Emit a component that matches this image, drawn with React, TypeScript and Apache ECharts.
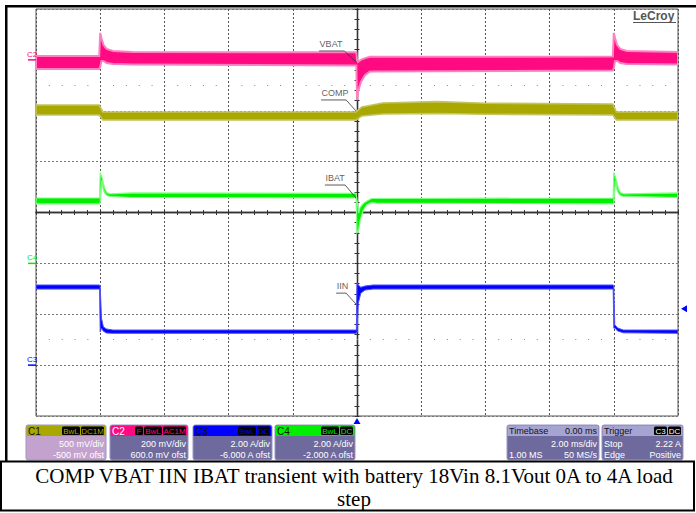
import React, { useEffect, useRef } from 'react';
import * as echarts from 'echarts';

// ---- time base (ms), 2 ms/div, trigger at 0 ----
const timeMin = -10;
const timeMax = 10;
const timeDiv = 2;

// ---- channel vertical scales: [min, max] of the 8-division screen ----
const c1Range = [-1500, 2500]; // COMP, mV (500 mV/div, -500 mV ofst)
const c2Range = [-1400, 200]; // VBAT AC, mV (200 mV/div, 600 mV ofst)
const c3Range = [-2, 14]; // IIN, A (2 A/div, -6 A ofst)
const c4Range = [-6, 10]; // IBAT, A (2 A/div, -2 A ofst)
const divRange = [-4, 4];
const dotRows = [2.5, -2.5];
const triggerLevel = 2.22;

// ---- trace envelopes: [time ms, low, high] ----
const vbatEnv = [
  [-10, -36, 15], [-8.03, -36, 15], [-8.0, -28, 106], [-7.96, -4, 86], [-7.9, -4, 59],
  [-7.8, -12, 43], [-7.6, -16, 35], [-7.0, -18, 31], [-0.02, -22, 30], [0.0, -158, 0],
  [0.03, -126, -8], [0.12, -87, 0], [0.25, -59, 7], [0.4, -46, 12], [7.97, -42, 13],
  [8.0, -32, 106], [8.04, -4, 86], [8.1, -4, 59], [8.2, -12, 43], [8.4, -16, 35], [10, -18, 31],
];
const compEnv = [
  [-10, 1458, 1557], [-8.03, 1458, 1557], [-7.92, 1409, 1488], [-0.03, 1409, 1488],
  [0.15, 1449, 1537], [0.8, 1468, 1576], [2.5, 1473, 1590], [4.0, 1466, 1574],
  [7.97, 1458, 1566], [8.08, 1409, 1488], [10, 1409, 1488],
];
const ibatEnv = [
  [-10, 2.34, 2.57], [-8.02, 2.34, 2.57], [-8.0, 2.4, 3.57], [-7.95, 3.25, 3.41], [-7.9, 2.89, 3.15],
  [-7.85, 2.75, 2.91], [-7.79, 2.67, 2.78], [-7.69, 2.63, 2.73], [-7.0, 2.59, 2.77], [-0.03, 2.57, 2.75],
  [0.0, 1.2, 2.5], [0.05, 1.31, 1.98], [0.1, 1.71, 2.2], [0.2, 2.1, 2.36], [0.3, 2.3, 2.44],
  [0.45, 2.39, 2.55], [0.6, 2.37, 2.55], [7.98, 2.34, 2.57], [8.0, 2.4, 3.57], [8.05, 3.25, 3.41],
  [8.1, 2.89, 3.15], [8.15, 2.75, 2.91], [8.21, 2.67, 2.78], [8.31, 2.63, 2.73], [10, 2.59, 2.77],
];
const iinEnv = [
  [-10, 2.99, 3.15], [-8.02, 2.99, 3.15], [-8.0, 1.3, 3.1], [-7.96, 1.45, 1.85], [-7.9, 1.33, 1.5],
  [-7.8, 1.26, 1.42], [-7.6, 1.25, 1.38], [-0.02, 1.25, 1.38], [0.0, 1.3, 3.23], [0.04, 2.44, 3.15],
  [0.12, 2.83, 3.06], [0.25, 2.95, 3.11], [0.5, 2.99, 3.15], [7.98, 2.99, 3.15], [8.0, 1.45, 3.1],
  [8.03, 1.46, 1.59], [8.12, 1.34, 1.46], [8.3, 1.27, 1.38], [10, 1.25, 1.38],
];

// ---- annotation leaders: text start, underline end, pointer tip ----
const noteVBAT = [[-1.18, 35], [-0.4, 35], [-0.03, -8]];
const noteCOMP = [[-1.12, 1606], [-0.34, 1606], [-0.03, 1498]];
const noteIBAT = [[-1.0, 3.08], [-0.37, 3.08], [-0.03, 2.57]];
const noteIIN = [[-0.65, 2.83], [-0.34, 2.83], [-0.03, 2.4]];

// ---- info panel texts ----
const chanTitles = ['C1', 'C2', 'C3', 'C4'];
const chanBadges = [['BwL', 'DC1M'], ['F', 'BwL', 'AC1M'], ['BwL', 'DC'], ['BwL', 'DC']];
const chanScale = ['500 mV/div', '200 mV/div', '2.00 A/div', '2.00 A/div'];
const chanOffset = ['-500 mV ofst', '600.0 mV ofst', '-6.000 A ofst', '-2.000 A ofst'];
const timebaseRows = [['Timebase', '0.00 ms'], ['', '2.00 ms/div'], ['1.00 MS', '50 MS/s']];
const triggerRows = [['Trigger', ''], ['Stop', '2.22 A'], ['Edge', 'Positive']];
const triggerBadges = ['C3', 'DC'];
const captionLines = [
  'COMP VBAT IIN IBAT transient with battery 18Vin 8.1Vout 0A to 4A load',
  'step',
];

const COL_C1 = '#A8A800';
const COL_C2 = '#FF0A80';
const COL_C3 = '#0000FF';
const COL_C4 = '#00EE00';
const SANS = '"Liberation Sans", Arial, sans-serif';
const SERIF = '"Liberation Serif", "Times New Roman", serif';

function band(env: number[][], yAxisIndex: number, fill: string, stroke: string, lw: number) {
  return {
    type: 'custom',
    xAxisIndex: 0,
    yAxisIndex,
    clip: true,
    silent: true,
    data: env,
    encode: { x: 0, y: [1, 2] },
    renderItem: (params: any, api: any) => {
      if (params.dataIndex !== 0) return;
      const up = env.map((p) => api.coord([p[0], p[2]]));
      const dn = env.slice().reverse().map((p) => api.coord([p[0], p[1]]));
      return {
        type: 'polygon',
        shape: { points: up.concat(dn) },
        style: { fill, stroke, lineWidth: lw },
      };
    },
  };
}

function note(points: number[][], yAxisIndex: number, text: string, markPoint?: any) {
  return [
    {
      type: 'line',
      xAxisIndex: 0,
      yAxisIndex,
      data: points,
      symbol: 'none',
      silent: true,
      z: 5,
      lineStyle: { color: '#333', width: 0.8 },
    },
    {
      type: 'scatter',
      xAxisIndex: 0,
      yAxisIndex,
      data: [points[0]],
      symbolSize: 1,
      silent: true,
      z: 5,
      itemStyle: { color: 'rgba(0,0,0,0)' },
      label: {
        show: true,
        formatter: text,
        position: [1, -11],
        color: '#333',
        fontSize: 9,
        fontFamily: SANS,
      },
      markPoint,
    },
  ];
}

function chanMarker(label: string, color: string) {
  return {
    coord: [timeMin, 0],
    symbol: 'rect',
    symbolSize: [8, 1.5],
    symbolOffset: [-4, 0],
    itemStyle: { color },
    label: { show: true, position: 'top', distance: 1, formatter: label, color, fontSize: 8, fontFamily: SANS },
  };
}

function buildGraphics() {
  const g: any[] = [];
  const heads = [COL_C1, COL_C2, COL_C3, COL_C4];
  const bodies = ['#C4A2CE', '#6E6A9E', '#6E6A9E', '#6E6A9E'];
  const xs = [26, 110, 193, 275];
  const ws = [80, 78, 79, 80];
  const top = 425;
  for (let i = 0; i < 4; i++) {
    const x = xs[i];
    const w = ws[i];
    g.push({ type: 'rect', shape: { x, y: top, width: w, height: 35, r: 2 }, style: { fill: bodies[i], stroke: '#9A96C4', lineWidth: 1 } });
    g.push({ type: 'rect', shape: { x: x + 0.5, y: top + 0.5, width: w - 1, height: 10.5, r: [2, 2, 0, 0] }, style: { fill: heads[i] } });
    g.push({ type: 'text', x: x + 2, y: top + 6, style: { text: chanTitles[i], fill: i === 1 ? '#fff' : '#111', font: `10px ${SANS}`, verticalAlign: 'middle' } });
    let right = x + w - 2;
    const bs = chanBadges[i].slice().reverse();
    for (const b of bs) {
      const bw = b.length * 5 + 3;
      g.push({ type: 'rect', shape: { x: right - bw, y: top + 1.5, width: bw, height: 8.5, r: 1.5 }, style: { fill: '#000' } });
      g.push({ type: 'text', x: right - bw / 2, y: top + 6, style: { text: b, fill: heads[i], font: `8px ${SANS}`, align: 'center', verticalAlign: 'middle' } });
      right -= bw + 1;
    }
    g.push({ type: 'text', x: x + w - 2, y: top + 18.5, style: { text: chanScale[i], fill: '#fff', font: `9px ${SANS}`, align: 'right', verticalAlign: 'middle' } });
    g.push({ type: 'text', x: x + w - 2, y: top + 30, style: { text: chanOffset[i], fill: '#fff', font: `9px ${SANS}`, align: 'right', verticalAlign: 'middle' } });
  }
  const panels = [
    { x: 507, w: 92, rows: timebaseRows, badges: [] as string[] },
    { x: 602, w: 81, rows: triggerRows, badges: triggerBadges },
  ];
  for (const p of panels) {
    g.push({ type: 'rect', shape: { x: p.x, y: top, width: p.w, height: 35, r: 2 }, style: { fill: '#6E6A9E', stroke: '#9A96C4', lineWidth: 1 } });
    g.push({ type: 'rect', shape: { x: p.x + 0.5, y: top + 0.5, width: p.w - 1, height: 10.5, r: [2, 2, 0, 0] }, style: { fill: '#A6A4D2' } });
    const ys = [top + 6, top + 18.5, top + 30];
    p.rows.forEach((r, k) => {
      const fill = k === 0 ? '#111' : '#fff';
      if (r[0]) g.push({ type: 'text', x: p.x + 2, y: ys[k], style: { text: r[0], fill, font: `9px ${SANS}`, verticalAlign: 'middle' } });
      if (r[1]) g.push({ type: 'text', x: p.x + p.w - 2, y: ys[k], style: { text: r[1], fill, font: `9px ${SANS}`, align: 'right', verticalAlign: 'middle' } });
    });
    let right = p.x + p.w - 2;
    for (const b of p.badges.slice().reverse()) {
      const bw = b.length * 5 + 3;
      g.push({ type: 'rect', shape: { x: right - bw, y: top + 1.5, width: bw, height: 8.5, r: 1.5 }, style: { fill: '#000' } });
      g.push({ type: 'text', x: right - bw / 2, y: top + 6, style: { text: b, fill: '#fff', font: `8px ${SANS}`, align: 'center', verticalAlign: 'middle' } });
      right -= bw + 1;
    }
  }
  // LeCroy logo text
  g.push({ type: 'text', x: 633, y: 16, style: { text: 'LeCroy', fill: '#555', font: `bold 12px ${SANS}`, verticalAlign: 'middle' } });
  g.push({ type: 'line', shape: { x1: 633, y1: 22.5, x2: 676, y2: 22.5 }, style: { stroke: '#555', lineWidth: 1 } });
  // frame
  g.push({ type: 'rect', shape: { x: 5, y: 5, width: 691, height: 2.5 }, style: { fill: '#000' } });
  g.push({ type: 'rect', shape: { x: 5, y: 5, width: 2.5, height: 457 }, style: { fill: '#000' } });
  g.push({ type: 'rect', shape: { x: 1, y: 461.5, width: 693, height: 49 }, style: { fill: 'none', stroke: '#000', lineWidth: 2 } });
  g.push({ type: 'text', x: 354, y: 475.5, style: { text: captionLines[0], fill: '#000', font: `21px ${SERIF}`, align: 'center', verticalAlign: 'middle' } });
  g.push({ type: 'text', x: 354, y: 498.5, style: { text: captionLines[1], fill: '#000', font: `21px ${SERIF}`, align: 'center', verticalAlign: 'middle' } });
  return g;
}

export default function App() {
  const ref = useRef<HTMLDivElement>(null);
  useEffect(() => {
    if (!ref.current) return;
    const chart = echarts.init(ref.current, undefined, { renderer: 'svg' });
    const centerAxisX = (inside: boolean) => ({
      type: 'value',
      min: timeMin,
      max: timeMax,
      interval: timeDiv,
      axisLine: { show: true, onZero: true, onZeroAxisIndex: 4, lineStyle: { color: '#333', width: 1.3 } },
      axisTick: { show: true, inside, length: 2.5, lineStyle: { color: '#333' } },
      minorTick: { show: true, splitNumber: 5, length: 2.5, lineStyle: { color: '#333' } },
      axisLabel: { show: false },
      splitLine: { show: false },
    });
    const centerAxisY = (inside: boolean) => ({
      type: 'value',
      min: divRange[0],
      max: divRange[1],
      interval: 1,
      axisLine: { show: true, onZero: true, onZeroAxisIndex: 0, lineStyle: { color: '#333', width: 1.3 } },
      axisTick: { show: true, inside, length: 2.5, lineStyle: { color: '#333' } },
      minorTick: { show: true, splitNumber: 5, length: 2.5, lineStyle: { color: '#333' } },
      axisLabel: { show: false },
      splitLine: { show: false },
    });
    const option: any = {
      animation: false,
      backgroundColor: '#fff',
      grid: { left: 36, top: 9, width: 642, height: 407, show: true, borderColor: '#555', borderWidth: 1 },
      xAxis: [
        {
          type: 'value', min: timeMin, max: timeMax, interval: timeDiv,
          axisLine: { show: false }, axisTick: { show: false }, axisLabel: { show: false },
          splitLine: { show: true, lineStyle: { color: '#555', type: [2, 2], width: 1 } },
        },
        centerAxisX(true),
        centerAxisX(false),
      ],
      yAxis: [
        { type: 'value', min: c1Range[0], max: c1Range[1], show: false },
        { type: 'value', min: c2Range[0], max: c2Range[1], show: false },
        { type: 'value', min: c3Range[0], max: c3Range[1], show: false },
        { type: 'value', min: c4Range[0], max: c4Range[1], show: false },
        {
          type: 'value', min: divRange[0], max: divRange[1], interval: 1,
          axisLine: { show: false }, axisTick: { show: false }, axisLabel: { show: false },
          splitLine: { show: true, lineStyle: { color: '#777', type: [2, 2], width: 1 } },
        },
        centerAxisY(true),
        centerAxisY(false),
      ],
      series: [
        {
          type: 'line', xAxisIndex: 0, yAxisIndex: 4, data: [[0, 0]], symbol: 'none', silent: true,
          lineStyle: { opacity: 0 },
          markLine: {
            silent: true, symbol: 'none', label: { show: false },
            lineStyle: { color: '#888', type: [1, 11.84], width: 1.2 },
            data: dotRows.map((v) => ({ yAxis: v })),
          },
        },
        band(compEnv, 0, COL_C1, '#C4C460', 1.6),
        band(vbatEnv, 1, COL_C2, '#FF80C0', 2),
        band(ibatEnv, 3, COL_C4, '#80FF80', 1.2),
        band(iinEnv, 2, COL_C3, '#5050FF', 1),
        ...note(noteVBAT, 1, 'VBAT', { data: [chanMarker('C2', COL_C2)] }),
        ...note(noteCOMP, 0, 'COMP'),
        ...note(noteIBAT, 3, 'IBAT', { data: [chanMarker('C4', COL_C4)] }),
        ...note(noteIIN, 2, 'IIN', {
          data: [
            chanMarker('C3', COL_C3),
            { coord: [0, c3Range[0]], symbol: 'triangle', symbolSize: [7, 6], symbolOffset: [0, 5], itemStyle: { color: COL_C3 }, label: { show: false } },
            { coord: [timeMax, triggerLevel], symbol: 'triangle', symbolSize: [7, 6], symbolRotate: 90, symbolOffset: [6, 0], itemStyle: { color: COL_C3 }, label: { show: false } },
          ],
        }),
      ],
      graphic: buildGraphics(),
    };
    chart.setOption(option);
    return () => chart.dispose();
  }, []);
  return (
    <div
      ref={ref}
      style={{ position: 'absolute', left: 0, top: 0, width: 696, height: 513, background: '#fff' }}
    />
  );
}
